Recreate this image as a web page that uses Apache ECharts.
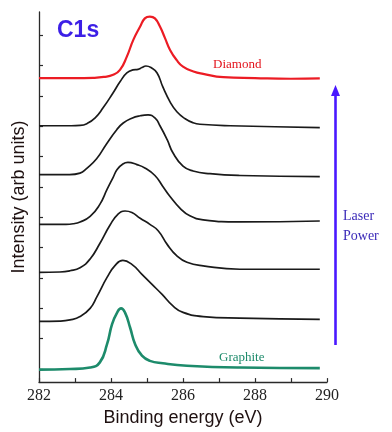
<!DOCTYPE html>
<html>
<head>
<meta charset="utf-8">
<script src="https://cdn.jsdelivr.net/npm/echarts@6/dist/echarts.min.js"></script>
<style>
html,body{margin:0;padding:0;background:#fff;}
#c{width:392px;height:432px;}
</style>
</head>
<body>
<div id="c"></div>
<script>
// Binding energies (eV) and intensities (arb units, above each spectrum's own baseline)
const diamondE = [282.0, 283.0, 283.5, 283.8, 284.06, 284.25, 284.44, 284.62, 284.81, 284.94, 285.08, 285.22, 285.36, 285.5, 285.64, 285.82, 286.0, 286.29, 286.56, 287.12, 288.0, 289.0, 289.8];
const diamondI = [0, 0, 0.01, 0.04, 0.11, 0.27, 0.71, 1.26, 1.70, 1.97, 2.03, 1.97, 1.70, 1.32, 0.93, 0.60, 0.38, 0.22, 0.14, 0.03, 0.0, -0.02, -0.01];

const laser1E = [282.0, 282.9, 283.14, 283.33, 283.56, 283.78, 284.06, 284.25, 284.44, 284.61, 284.75, 284.86, 284.97, 285.11, 285.28, 285.44, 285.64, 285.83, 286.06, 286.28, 286.47, 287.31, 289.8];
const laser1I = [0, 0, 0.01, 0.07, 0.26, 0.59, 1.09, 1.45, 1.74, 1.84, 1.86, 1.92, 1.97, 1.92, 1.74, 1.28, 0.79, 0.46, 0.23, 0.10, 0.05, 0.0, -0.06];

const laser2E = [282.0, 282.85, 283.14, 283.32, 283.6, 283.88, 284.16, 284.34, 284.58, 284.81, 285.03, 285.22, 285.36, 285.56, 285.72, 286.0, 286.28, 286.75, 287.58, 289.8];
const laser2I = [0, 0.0, 0.05, 0.2, 0.52, 1.02, 1.48, 1.70, 1.86, 1.94, 1.97, 1.87, 1.61, 1.15, 0.72, 0.28, 0.12, 0.03, -0.03, -0.07];

const laser3E = [282.0, 282.75, 282.95, 283.14, 283.42, 283.69, 283.89, 284.06, 284.17, 284.33, 284.47, 284.72, 284.94, 285.22, 285.44, 285.64, 285.92, 286.19, 286.56, 287.58, 289.8];
const laser3I = [0, 0, 0.02, 0.08, 0.26, 0.66, 1.15, 1.55, 1.81, 1.99, 2.04, 1.97, 1.86, 1.61, 1.25, 0.92, 0.53, 0.28, 0.15, 0.08, 0.11];

const laser4E = [282.0, 282.58, 282.86, 283.14, 283.42, 283.69, 283.97, 284.19, 284.39, 284.58, 284.81, 285.08, 285.31, 285.56, 285.83, 286.11, 286.56, 287.58, 289.8];
const laser4I = [0, 0.01, 0.05, 0.15, 0.44, 0.95, 1.55, 1.91, 2.02, 1.97, 1.78, 1.58, 1.37, 0.92, 0.54, 0.33, 0.21, 0.10, 0.10];

const laser5E = [282.0, 282.58, 282.86, 283.14, 283.42, 283.61, 283.89, 284.11, 284.33, 284.58, 284.86, 285.14, 285.42, 285.72, 286.0, 286.56, 287.58, 289.8];
const laser5I = [0, 0.01, 0.05, 0.16, 0.43, 0.82, 1.45, 1.84, 2.01, 1.88, 1.55, 1.22, 0.89, 0.51, 0.30, 0.16, 0.11, 0.07];

const graphiteE = [282.0, 282.86, 283.42, 283.69, 283.89, 284.03, 284.17, 284.28, 284.39, 284.53, 284.67, 284.86, 285.08, 285.44, 286.11, 287.58, 289.8];
const graphiteI = [-0.02, 0.0, 0.05, 0.22, 0.82, 1.48, 1.86, 2.0, 1.86, 1.37, 0.82, 0.44, 0.27, 0.19, 0.11, 0.05, 0.03];

// vertical offsets of the stacked spectra (arb units)
const offsets = [10.02, 8.45, 6.84, 5.2, 3.62, 2.0, 0.43];
const seriesNames = ['Diamond', 'Laser 5', 'Laser 4', 'Laser 3', 'Laser 2', 'Laser 1', 'Graphite'];
const yTicks = [0.43, 1.43, 2.43, 3.43, 4.43, 5.43, 6.43, 7.43, 8.43, 9.43, 10.43, 11.43];

const energies = [diamondE, laser1E, laser2E, laser3E, laser4E, laser5E, graphiteE];
const intens = [diamondI, laser1I, laser2I, laser3I, laser4I, laser5I, graphiteI];
const colors = ['#ec1c24', '#1a1a1a', '#1a1a1a', '#1a1a1a', '#1a1a1a', '#1a1a1a', '#1d8b6b'];
const widths = [2.2, 1.7, 1.7, 1.7, 1.7, 1.7, 2.6];

const series = energies.map((E, k) => ({
  name: seriesNames[k],
  type: 'line',
  smooth: 0.5,
  symbol: 'none',
  silent: true,
  lineStyle: { color: colors[k], width: widths[k] },
  data: E.map((e, i) => [e, offsets[k] + intens[k][i]])
}));

const chart = echarts.init(document.getElementById('c'), null, { renderer: 'canvas' });
chart.setOption({
  animation: false,
  backgroundColor: '#ffffff',
  grid: { left: 39, right: 65, top: 12, bottom: 49 },
  xAxis: {
    type: 'value', min: 282, max: 290, interval: 1,
    name: 'Binding energy (eV)', nameLocation: 'middle', nameGap: 26,
    nameTextStyle: { fontFamily: 'Liberation Sans', fontSize: 18, color: '#1e1010' },
    axisLine: { lineStyle: { color: '#2a2a2a', width: 1.3 } },
    axisTick: { inside: true, length: 4, lineStyle: { color: '#2a2a2a', width: 1.2 } },
    axisLabel: {
      fontFamily: 'Liberation Serif', fontSize: 16, color: '#222', margin: 6,
      formatter: v => (v % 2 === 0 ? String(v) : '')
    },
    splitLine: { show: false }
  },
  yAxis: {
    type: 'value', min: 0, max: 12.2,
    name: 'Intensity (arb units)', nameLocation: 'middle', nameGap: 11,
    nameTextStyle: { fontFamily: 'Liberation Sans', fontSize: 18, color: '#1e1010' },
    axisLine: { show: true, lineStyle: { color: '#2a2a2a', width: 1.3 } },
    axisTick: { show: true, inside: true, length: 4, customValues: yTicks, lineStyle: { color: '#2a2a2a', width: 1.2 } },
    axisLabel: { show: false },
    splitLine: { show: false }
  },
  series: series,
  graphic: [
    { type: 'text', left: 57, top: 19, style: { text: 'C1s', font: 'bold 23px "Liberation Sans"', fill: '#3c1fe6' } },
    { type: 'text', left: 213, top: 58, style: { text: 'Diamond', font: '13px "Liberation Serif"', fill: '#e3121b' } },
    { type: 'text', left: 219, top: 351, style: { text: 'Graphite', font: '13px "Liberation Serif"', fill: '#1d8b6b' } },
    { type: 'text', left: 343, top: 206, style: { text: 'Laser\nPower', font: '14px "Liberation Serif"', lineHeight: 20, fill: '#3b2ab8' } },
    { type: 'line', shape: { x1: 335.5, y1: 345, x2: 335.5, y2: 94 }, style: { stroke: '#4a18ff', lineWidth: 2.6 } },
    { type: 'polygon', shape: { points: [[335.5, 85], [331, 96], [340, 96]] }, style: { fill: '#4a18ff' } }
  ]
});
</script>
</body>
</html>
